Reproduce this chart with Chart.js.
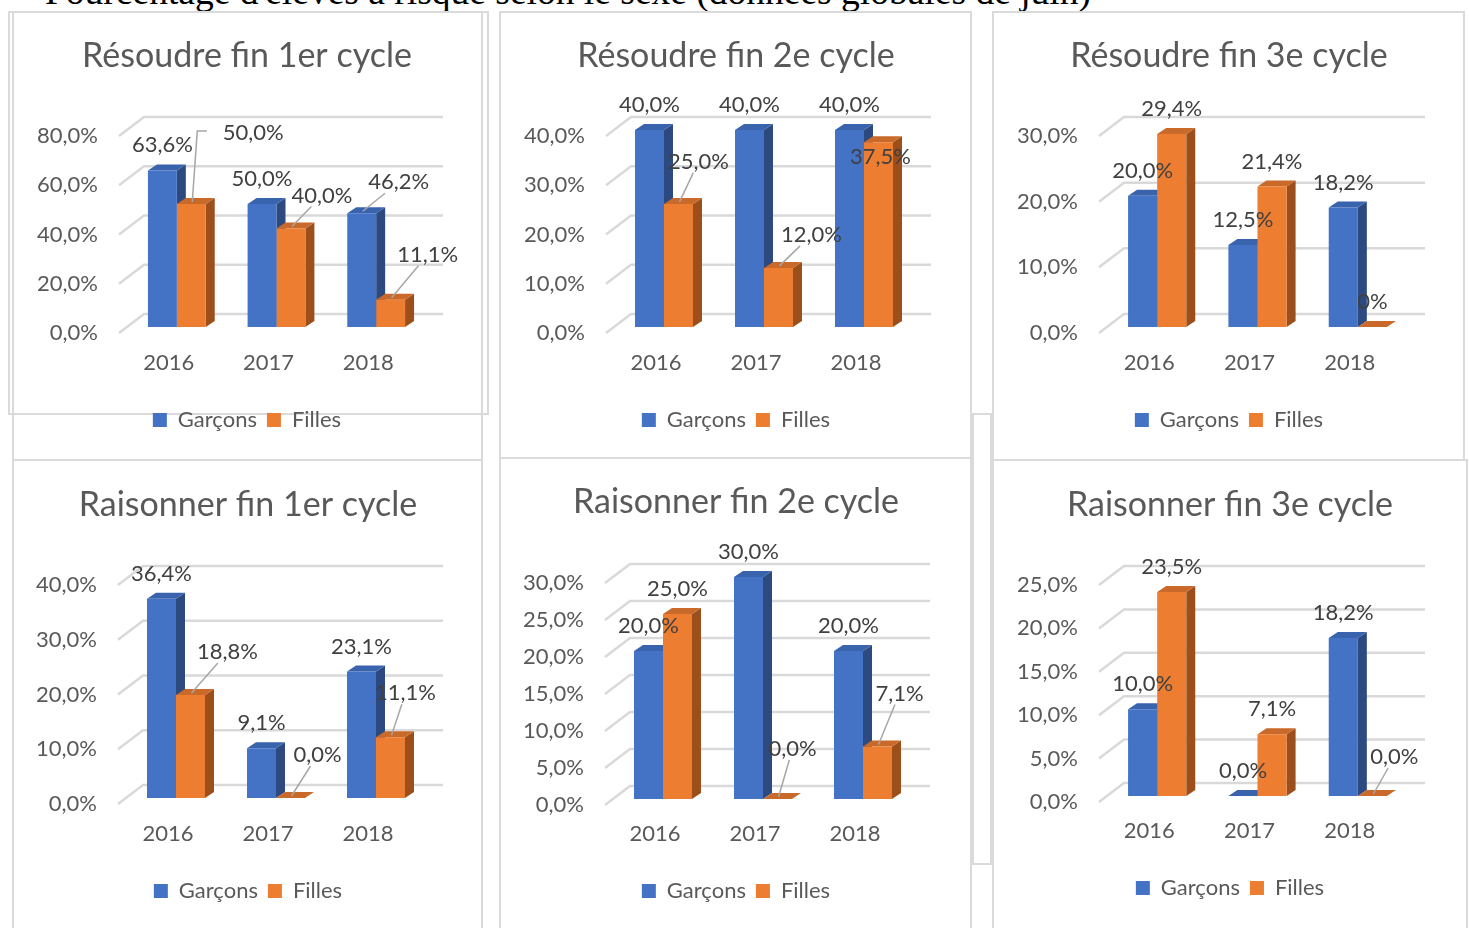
<!DOCTYPE html>
<html lang="fr">
<head>
<meta charset="utf-8">
<script src="https://cdn.jsdelivr.net/npm/chart.js@4/dist/chart.umd.min.js"></script>
<style>
  html, body { margin: 0; padding: 0; background: #fff; }
  body { width: 1469px; height: 928px; position: relative; overflow: hidden; }
  .heading { position: absolute; left: 45px; top: -27px; font: 37.5px/37.5px "Liberation Serif", serif; color: #000; white-space: nowrap; }
  .frame { position: absolute; border: 2px solid #dadada; box-sizing: border-box; }
  canvas { position: absolute; }
</style>
</head>
<body>
<div class="heading">Pourcentage d'élèves à risque selon le sexe (données globales de juin)</div>
<script>
// --- data ---
const years = ['2016', '2017', '2018'];
const seriesNames = ['Garçons', 'Filles'];
const titles = [
  'Résoudre fin 1er cycle', 'Résoudre fin 2e cycle', 'Résoudre fin 3e cycle',
  'Raisonner fin 1er cycle', 'Raisonner fin 2e cycle', 'Raisonner fin 3e cycle'
];
const resoudre1erGarcons = [63.6, 50.0, 46.2];
const resoudre1erFilles = [50.0, 40.0, 11.1];
const resoudre2eGarcons = [40.0, 40.0, 40.0];
const resoudre2eFilles = [25.0, 12.0, 37.5];
const resoudre3eGarcons = [20.0, 12.5, 18.2];
const resoudre3eFilles = [29.4, 21.4, 0];
const raisonner1erGarcons = [36.4, 9.1, 23.1];
const raisonner1erFilles = [18.8, 0, 11.1];
const raisonner2eGarcons = [20.0, 30.0, 20.0];
const raisonner2eFilles = [25.0, 0, 7.1];
const raisonner3eGarcons = [10.0, 0, 18.2];
const raisonner3eFilles = [23.5, 7.1, 0];
const axisMax = [80, 40, 30, 40, 30, 25];
const axisStep = [20, 10, 10, 10, 5, 5];

const garcons = [resoudre1erGarcons, resoudre2eGarcons, resoudre3eGarcons, raisonner1erGarcons, raisonner2eGarcons, raisonner3eGarcons];
const filles = [resoudre1erFilles, resoudre2eFilles, resoudre3eFilles, raisonner1erFilles, raisonner2eFilles, raisonner3eFilles];

// --- layout (page pixels) ---
// moves: label shift [dx, dy, leader] where leader 1 = straight, 2 = elbow
const panels = [
  { x: 12,  y: 13,  w: 470, h: 445, left: 119, right: 418, top: 136, bottom: 333, titleY: 56,  tickY: 363, legendY: 420,
    moves: { '1-0': [62, -46, 2], '1-1': [31, -8, 1], '0-2': [37, -6, 1], '1-2': [37, -20, 1] } },
  { x: 501, y: 13,  w: 470, h: 443, left: 606, right: 906, top: 136, bottom: 333, titleY: 56,  tickY: 363, legendY: 420,
    moves: { '1-0': [20, -17, 1], '1-1': [33, -8, 1], '1-2': [2, 40, 0] } },
  { x: 994, y: 13,  w: 470, h: 445, left: 1099, right: 1400, top: 136, bottom: 333, titleY: 56, tickY: 363, legendY: 420,
    moves: {}, texts: { '1-2': '0%' } },
  { x: 14,  y: 461, w: 468, h: 467, left: 118, right: 418, top: 585, bottom: 804, titleY: 505, tickY: 834, legendY: 891,
    moves: { '1-0': [37, -18, 1], '1-1': [27, -18, 1], '1-2': [15, -19, 1] } },
  { x: 501, y: 459, w: 470, h: 469, left: 605, right: 905, top: 583, bottom: 805, titleY: 502, tickY: 834, legendY: 891,
    moves: { '1-1': [15, -25, 1], '1-2': [22, -28, 1] } },
  { x: 994, y: 461, w: 472, h: 467, left: 1099, right: 1400, top: 585, bottom: 802, titleY: 505, tickY: 831, legendY: 888,
    moves: { '1-2': [22, -14, 1] } }
];

const frames = [
  [8, 11, 481, 404], [12, 11, 471, 450], [12, 459, 471, 480],
  [499, 11, 473, 448], [499, 457, 473, 480],
  [972, 413, 20, 452],
  [992, 11, 473, 450], [992, 459, 476, 480]
];
frames.forEach(([x, y, w, h]) => {
  const d = document.createElement('div');
  d.className = 'frame';
  Object.assign(d.style, { left: x + 'px', top: y + 'px', width: w + 'px', height: h + 'px' });
  document.body.append(d);
});

const TEXT = '#595959';
const LABEL = '#404040';
const TITLE_SIZE = 34;
const FONT_SIZE = 22;
const LEGEND_PAD = 10;
// bar front shift, bar depth, wall depth
const FX = 8, FY = -6, BX = 9, BY = -6, WX = 25, WY = -19;

const pct = v => v.toFixed(1).replace('.', ',') + '%';

Chart.defaults.font.family = 'Lato, "Open Sans", sans-serif';
Chart.defaults.color = TEXT;

const fill = (ctx, pts) => {
  ctx.beginPath();
  pts.forEach(([x, y], i) => i ? ctx.lineTo(x, y) : ctx.moveTo(x, y));
  ctx.closePath();
  ctx.fill();
};

const fake3d = {
  id: 'fake3d',
  beforeDatasetsDraw(chart) {
    const { ctx, chartArea: a, scales: { y } } = chart;
    ctx.save();
    ctx.strokeStyle = '#d9d9d9';
    ctx.lineWidth = 2.5;
    y.ticks.forEach(t => {
      const py = y.getPixelForValue(t.value);
      ctx.beginPath();
      ctx.moveTo(a.left, py);
      ctx.lineTo(a.left + WX, py + WY);
      ctx.lineTo(a.right + WX, py + WY);
      ctx.stroke();
    });
    chart.data.datasets.forEach((ds, i) => {
      chart.getDatasetMeta(i).data.forEach(bar => {
        const x0 = bar.x - bar.width / 2 + FX, x1 = bar.x + bar.width / 2 + FX;
        const top = bar.y + FY, bottom = bar.base + FY;
        ctx.fillStyle = ds.sideColor;
        fill(ctx, [[x1, top], [x1 + BX, top + BY], [x1 + BX, bottom + BY], [x1, bottom]]);
        ctx.fillStyle = ds.topColor;
        fill(ctx, [[x0, top], [x0 + BX, top + BY], [x1 + BX, top + BY], [x1, top]]);
      });
    });
    ctx.restore();
    ctx.save();
    ctx.translate(FX, FY);
  },
  afterDatasetsDraw(chart, args, opts) {
    const { ctx } = chart;
    ctx.restore();
    ctx.save();
    ctx.font = FONT_SIZE + 'px ' + Chart.defaults.font.family;
    ctx.textAlign = 'center';
    ctx.textBaseline = 'middle';
    ctx.strokeStyle = '#a6a6a6';
    ctx.lineWidth = 1.5;
    chart.data.datasets.forEach((ds, i) => {
      chart.getDatasetMeta(i).data.forEach((bar, j) => {
        const key = i + '-' + j;
        const text = (opts.texts && opts.texts[key]) || pct(ds.data[j]);
        const [dx, dy, leader] = opts.moves[key] || [0, 0, 0];
        const cx = bar.x + FX, top = bar.y + FY;
        const lx = cx + dx, ly = top - 25 + dy;
        const hw = ctx.measureText(text).width / 2 + 2, hh = 11;
        const tx = cx + 1, ty = top - 2;
        if (leader === 1) {
          const vx = tx - lx, vy = ty - ly;
          const t = Math.min(vx ? hw / Math.abs(vx) : 9, vy ? hh / Math.abs(vy) : 9);
          if (t < 1) {
            ctx.beginPath();
            ctx.moveTo(lx + vx * t, ly + vy * t);
            ctx.lineTo(tx, ty);
            ctx.stroke();
          }
        } else if (leader === 2) {
          ctx.beginPath();
          ctx.moveTo(lx - hw - 14, ly - 2);
          ctx.lineTo(tx + 5, ly - 2);
          ctx.lineTo(tx, ty);
          ctx.stroke();
        }
        ctx.fillStyle = LABEL;
        ctx.fillText(text, lx, ly);
      });
    });
    ctx.restore();
  }
};

panels.forEach((p, i) => {
  const canvas = document.createElement('canvas');
  canvas.width = p.w;
  canvas.height = p.h;
  canvas.style.left = p.x + 'px';
  canvas.style.top = p.y + 'px';
  document.body.append(canvas);

  const titleLH = TITLE_SIZE * 1.2;
  const titleTop = p.titleY - p.y - titleLH / 2;
  const titleBottom = p.top - p.y - titleTop - titleLH;
  const legendH = FONT_SIZE + 2 * LEGEND_PAD;
  const padBottom = p.y + p.h - (p.legendY + legendH / 2);
  const xAxisH = p.legendY - legendH / 2 - p.bottom;
  const tickPad = p.tickY - p.bottom - FONT_SIZE * 0.6;

  new Chart(canvas.getContext('2d'), {
    type: 'bar',
    data: {
      labels: years,
      datasets: [
        { label: seriesNames[0], data: garcons[i], backgroundColor: '#4472C4', topColor: '#3A63AE', sideColor: '#2C4A80',
          barPercentage: 1, categoryPercentage: 0.58 },
        { label: seriesNames[1], data: filles[i], backgroundColor: '#ED7D31', topColor: '#C9692A', sideColor: '#9C4F1B',
          barPercentage: 1, categoryPercentage: 0.58 }
      ]
    },
    options: {
      responsive: false,
      animation: false,
      devicePixelRatio: 1,
      layout: { padding: { left: 0, top: 0, right: 0, bottom: padBottom } },
      scales: {
        x: {
          grid: { display: false, drawTicks: false },
          border: { display: false },
          ticks: { font: { size: FONT_SIZE }, padding: tickPad },
          afterFit: s => { s.height = xAxisH; }
        },
        y: {
          min: 0,
          max: axisMax[i],
          grid: { display: false, drawTicks: false },
          border: { display: false },
          ticks: { stepSize: axisStep[i], font: { size: FONT_SIZE }, padding: 21, callback: v => pct(v) },
          afterFit: s => { s.width = p.left - p.x; }
        },
        yRight: {
          axis: 'y',
          position: 'right',
          grid: { display: false, drawTicks: false },
          border: { display: false },
          ticks: { display: false },
          afterFit: s => { s.width = p.x + p.w - p.right; }
        }
      },
      plugins: {
        title: {
          display: true,
          text: titles[i],
          color: TEXT,
          font: { size: TITLE_SIZE, weight: 'normal' },
          padding: { top: titleTop, bottom: titleBottom }
        },
        legend: {
          position: 'bottom',
          labels: { boxWidth: 14, boxHeight: 14, padding: LEGEND_PAD, color: TEXT, font: { size: FONT_SIZE } }
        },
        tooltip: { enabled: false },
        fake3d: { moves: p.moves, texts: p.texts }
      }
    },
    plugins: [fake3d]
  });
});
</script>
</body>
</html>
